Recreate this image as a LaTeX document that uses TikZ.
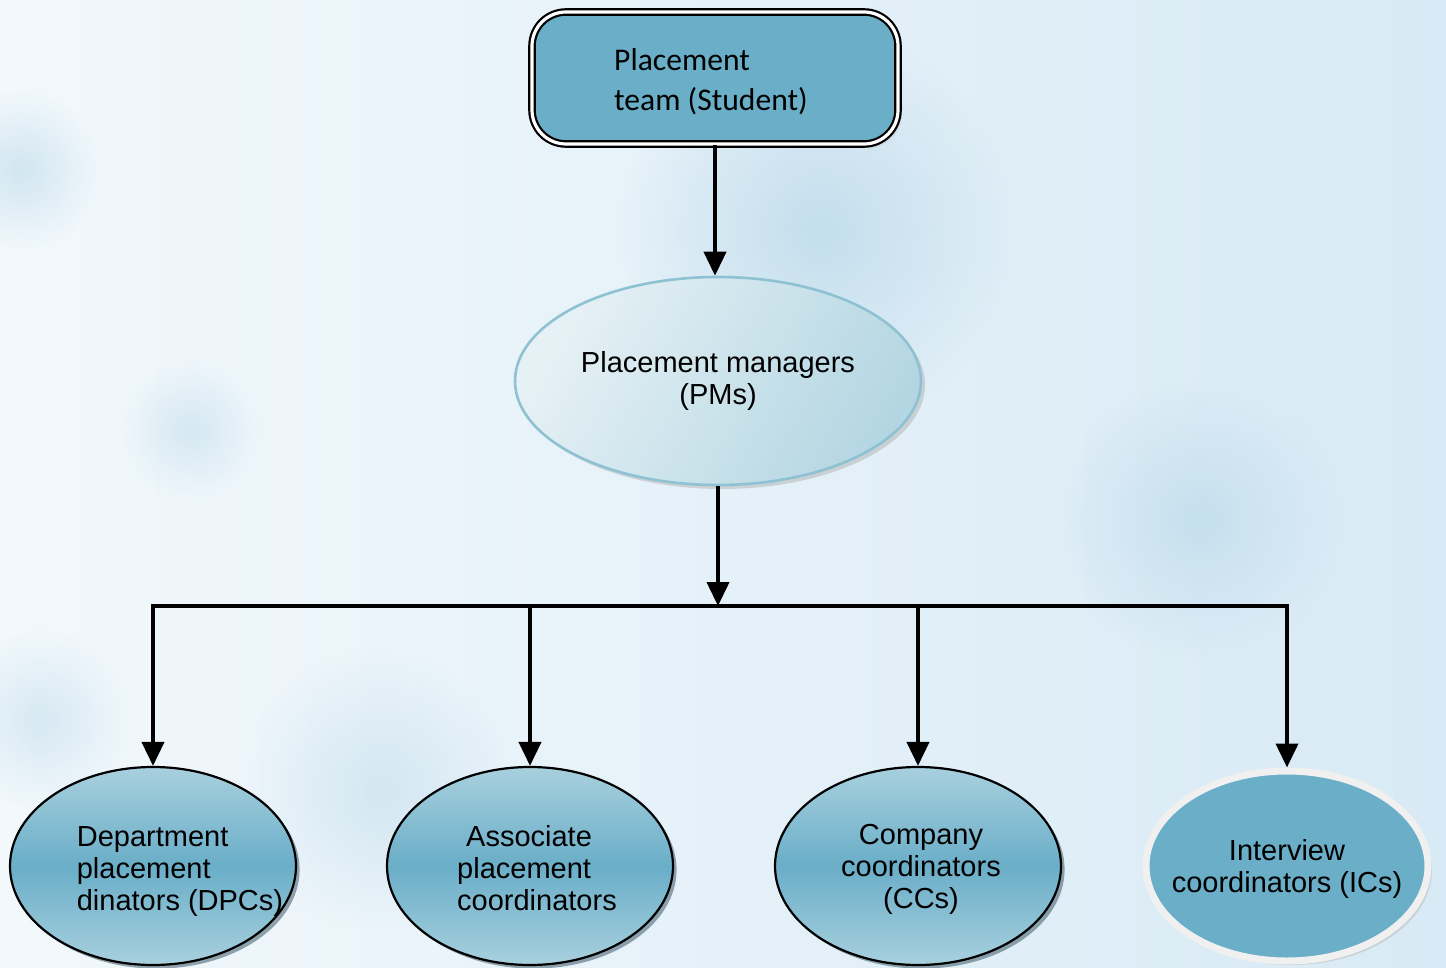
\documentclass[tikz,border=0pt]{standalone}
\usepackage{fontspec}
\setmainfont{Liberation Sans}
\newfontfamily\calib{Carlito}
\usetikzlibrary{shapes.geometric,arrows.meta,shadows,calc,fadings}
\tikzfading[name=softcirc, inner color=transparent!0, outer color=transparent!100]
\definecolor{bgA}{HTML}{F2F8FC}
\definecolor{bgB}{HTML}{D8EAF5}
\definecolor{blob}{HTML}{BCDAEA}
\definecolor{teal}{HTML}{6AAEC8}
\definecolor{tealL}{HTML}{A8D0DE}
\definecolor{pmA}{HTML}{E6F1F5}
\definecolor{pmB}{HTML}{B4D6E2}
\definecolor{pmEdge}{HTML}{8EC2D3}
\definecolor{shadowD}{HTML}{2E4E5E}
\tikzset{
  lw/.style={line width=2pt},
  arr/.style={lw,-{Triangle[width=11pt,length=12pt]}},
  topbox/.style={rectangle,rounded corners=17pt,minimum width=183pt,minimum height=66pt,
    fill=teal,draw=black,double=white,double distance=1.6pt,line width=1.1pt,
    drop shadow={shadow xshift=2pt,shadow yshift=-2pt,fill=gray!40}},
  pmell/.style={ellipse,minimum width=203pt,minimum height=104pt,inner sep=0pt,
    left color=pmA,right color=pmB,shading angle=60,draw=pmEdge,line width=1.3pt,
    drop shadow={shadow xshift=2pt,shadow yshift=-2pt,fill=gray!60}},
  botell/.style={ellipse,minimum width=143pt,minimum height=99pt,inner sep=0pt,
    top color=tealL,bottom color=tealL,middle color=teal,draw=black,line width=1.1pt,
    drop shadow={shadow xshift=1.8pt,shadow yshift=-1.8pt,fill=shadowD}},
  icell/.style={ellipse,minimum width=141pt,minimum height=95pt,inner sep=0pt,
    fill=teal,draw=gray!12,line width=3.5pt,
    drop shadow={shadow xshift=2pt,shadow yshift=-2pt,fill=gray!55}},
  lab/.style={font=\fontsize{14.5pt}{16pt}\selectfont,inner sep=0pt,text=black},
  bgblob/.style={fill=blob,path fading=softcirc},
}
\begin{document}
\begin{tikzpicture}[x=0.5pt,y=-0.5pt]
% background
\path[left color=bgA,right color=bgB] (0,0) rectangle (1446,968);
\useasboundingbox (0,0) rectangle (1446,968);
\fill[bgblob,opacity=0.8] (820,230) circle (200);
\fill[bgblob,opacity=0.7] (1200,520) circle (140);
\fill[bgblob,opacity=0.6] (20,170) circle (80);
\fill[bgblob,opacity=0.5] (190,430) circle (70);
\fill[bgblob,opacity=0.5] (380,790) circle (140);
\fill[bgblob,opacity=0.5] (40,720) circle (90);
% nodes
\node[topbox] (top) at (715,78) {};
\node[align=left,inner sep=0pt,font=\calib\fontsize{15.8pt}{20pt}\selectfont] (toptxt) at (711,82) {Placement\\team (Student)};
\node[pmell] (pm) at (718,381) {};
\node[lab,align=center] (pmtxt) at (718,381) {Placement managers\\(PMs)};
\node[botell] (dpc) at (153,866) {};
\node[lab,align=left] (dpctxt) at (180,872) {Department\\placement\\dinators (DPCs)};
\node[botell] (apc) at (530,866) {};
\node[lab,align=left] (apctxt) at (537,868) {\hspace{4.5pt}Associate\\placement\\coordinators};
\node[botell] (cc) at (918,866) {};
\node[lab,align=center] (cctxt) at (921,869) {Company\\coordinators\\(CCs)};
\node[icell] (ic) at (1287,866) {};
\node[lab,align=center] (ictxt) at (1287,869) {Interview\\coordinators (ICs)};
% connectors
\coordinate (j) at (718,606);
\coordinate (c1) at (153,606);
\coordinate (c2) at (530,606);
\coordinate (c3) at (918,606);
\coordinate (c4) at (1287,606);
\draw[arr] (top.south) -- (top.south |- pm.north);
\draw[arr] (pm.south) -- (j);
\draw[lw] ([xshift=-1pt]c1) -- ([xshift=1pt]c4);
\draw[arr] (c1) -- (dpc.north);
\draw[arr] (c2) -- (apc.north);
\draw[arr] (c3) -- (cc.north);
\draw[arr] (c4) -- (ic.north);
\end{tikzpicture}
\end{document}
